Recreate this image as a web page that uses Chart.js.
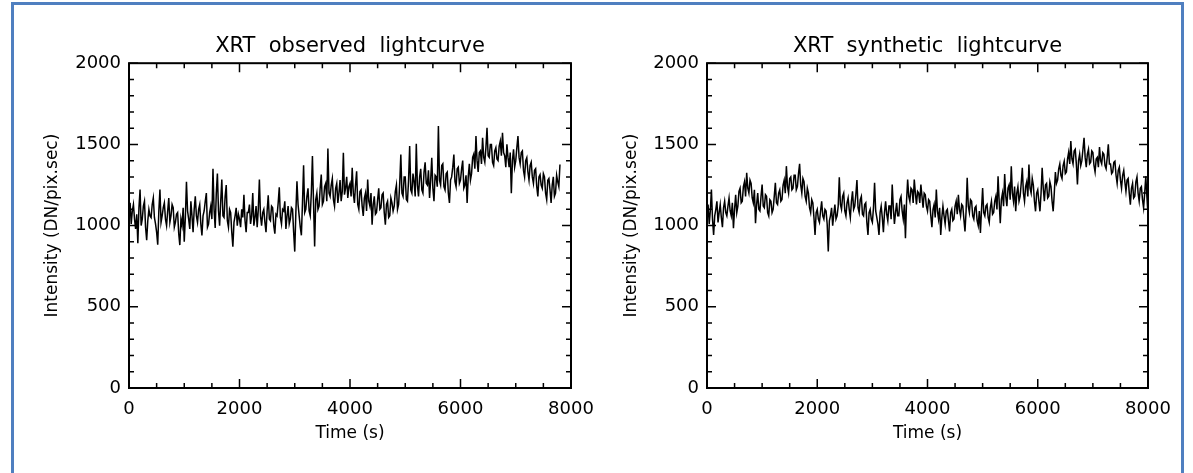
<!DOCTYPE html>
<html lang="en">
<head>
    <meta charset="UTF-8">
    <title>XRT lightcurves</title>
    <script src="https://cdn.jsdelivr.net/npm/chart.js"></script>
    <style>
        body {
            margin: 0;
            width: 1193px;
            height: 473px;
            overflow: hidden;
            background: white;
            position: relative;
        }
        .frame {
            position: absolute;
            left: 11px;
            top: 2px;
            width: 1167px;
            height: 700px;
            border: 3px solid #4f7fc0;
        }
        canvas {
            position: absolute;
            top: 0;
        }
        #observed { left: 0; }
        #synthetic { left: 596px; }
    </style>
</head>
<body>
    <div class="frame"></div>
    <canvas id="observed" width="596" height="473"></canvas>
    <canvas id="synthetic" width="597" height="473"></canvas>
    <script>
        // sampling step of both lightcurves (s)
        const cadence = 20;

        const xTicksMajor = [0, 2000, 4000, 6000, 8000];
        const yTicksMajor = [0, 500, 1000, 1500, 2000];

        // XRT observed lightcurve, DN/pix.sec, 0 .. 7800 s (one row = 400 s)
        const observedValues = [
            1080, 1140, 1010, 1090, 1130, 1040, 980, 1070, 892, 1110, 1222, 1000, 1040, 1120, 1150, 990, 910, 1030, 1100, 1060,
            1050, 1130, 1170, 1050, 1010, 960, 882, 1090, 1222, 1020, 1060, 1110, 1140, 1040, 1000, 1090, 1170, 1020, 1060, 1130,
            1110, 990, 1020, 1070, 1080, 950, 880, 1040, 1000, 1110, 900, 1050, 1270, 1090, 1040, 980, 1150, 1060, 960, 1100,
            1180, 1060, 1020, 1100, 1130, 1010, 940, 1060, 1090, 1150, 1200, 990, 1010, 1080, 1120, 1040, 1350, 1100, 985, 1200,
            1320, 1090, 1000, 1150, 1283, 1060, 1050, 1180, 1250, 1030, 990, 1100, 1080, 960, 870, 1020, 1060, 1110, 1000, 1070,
            1040, 990, 1100, 1050, 1190, 1030, 960, 1080, 1080, 1130, 1010, 1060, 1200, 1000, 1050, 1120, 990, 1100, 1284, 1060,
            1000, 1080, 1100, 1020, 960, 1090, 1187, 1040, 1030, 1120, 1110, 1000, 950, 1070, 1060, 1140, 1236, 1050, 1010, 1100,
            1090, 1150, 980, 1060, 1120, 1010, 1040, 1110, 1100, 960, 840, 1080, 1273, 1130, 1060, 990, 940, 1140, 1372, 1080,
            1100, 1180, 1230, 1090, 1060, 1200, 1428, 1140, 871, 1160, 1200, 1100, 1120, 1230, 1314, 1130, 1150, 1240, 1260, 1150,
            1475, 1200, 1180, 1250, 1290, 1160, 1120, 1230, 1260, 1140, 1200, 1280, 1150, 1210, 1448, 1190, 1230, 1300, 1170, 1240,
            1260, 1180, 1356, 1200, 1140, 1250, 1335, 1130, 1100, 1210, 1220, 1120, 1060, 1170, 1200, 1090, 1283, 1150, 1120, 1200,
            1005, 1130, 1180, 1070, 1080, 1160, 1230, 1100, 1110, 1190, 1200, 1080, 1005, 1130, 1150, 1050, 1060, 1170, 1140, 1090,
            1120, 1210, 1250, 1100, 1130, 1260, 1438, 1200, 1180, 1300, 1300, 1160, 1150, 1280, 1490, 1220, 1200, 1320, 1270, 1180,
            1504, 1250, 1180, 1300, 1350, 1220, 1200, 1330, 1390, 1260, 1250, 1340, 1170, 1280, 1418, 1230, 1150, 1310, 1300, 1240,
            1613, 1280, 1250, 1370, 1380, 1240, 1220, 1320, 1330, 1200, 1139, 1280, 1300, 1360, 1438, 1270, 1240, 1350, 1360, 1260,
            1280, 1350, 1400, 1230, 1250, 1310, 1139, 1300, 1380, 1280, 1320, 1420, 1440, 1350, 1552, 1400, 1330, 1450, 1460, 1380,
            1541, 1420, 1390, 1480, 1603, 1430, 1420, 1500, 1500, 1390, 1370, 1460, 1480, 1410, 1400, 1490, 1520, 1430, 1572, 1450,
            1430, 1360, 1500, 1420, 1360, 1450, 1200, 1400, 1470, 1360, 1400, 1480, 1552, 1420, 1380, 1450, 1460, 1340, 1300, 1400,
            1418, 1330, 1280, 1370, 1390, 1300, 1260, 1340, 1350, 1240, 1180, 1300, 1314, 1250, 1230, 1320, 1300, 1200, 1160, 1280,
            1290, 1220, 1139, 1250, 1300, 1180, 1200, 1310, 1270, 1240, 1376
        ];

        // XRT synthetic lightcurve, DN/pix.sec, 0 .. 8000 s (one row = 400 s)
        const syntheticValues = [
            1080, 1130, 1010, 1090, 1222, 1040, 943, 1060, 1100, 1150, 1020, 1080, 1130, 1050, 990, 1110, 1150, 1080, 1060, 1120,
            1170, 1090, 1060, 1140, 984, 1100, 1190, 1080, 1120, 1210, 1230, 1140, 1150, 1240, 1270, 1180, 1325, 1230, 1200, 1280,
            1260, 1170, 1140, 1220, 1015, 1130, 1200, 1100, 1090, 1180, 1253, 1120, 1110, 1190, 1180, 1080, 1060, 1160, 1150, 1080,
            1100, 1180, 1263, 1140, 1130, 1200, 1220, 1150, 1160, 1250, 1280, 1200, 1366, 1240, 1200, 1290, 1300, 1220, 1230, 1310,
            1310, 1220, 1240, 1320, 1380, 1250, 1200, 1290, 1270, 1180, 1150, 1230, 1200, 1110, 1080, 1160, 1140, 1050, 943, 1080,
            1100, 1040, 1020, 1090, 1150, 1060, 1040, 1100, 1090, 1010, 840, 1030, 1060, 1110, 1000, 1070, 1130, 1040, 1060, 1120,
            1298, 1130, 1100, 1180, 1200, 1090, 1060, 1140, 1170, 1100, 1050, 1150, 1211, 1100, 1120, 1190, 1280, 1110, 1080, 1160,
            1180, 1070, 1060, 1130, 1140, 1020, 943, 1080, 1100, 1040, 1020, 1110, 1263, 1090, 1050, 1010, 943, 1080, 1120, 1050,
            960, 1080, 1150, 1070, 1030, 1120, 1120, 1040, 1253, 1110, 1010, 1080, 1140, 1060, 1060, 1160, 1180, 1090, 1040, 1130,
            923, 1150, 1284, 1180, 1150, 1230, 1220, 1140, 1284, 1200, 1130, 1210, 1200, 1140, 1253, 1180, 1110, 1200, 1190, 1120,
            1090, 1160, 1150, 1060, 990, 1100, 1130, 1050, 1222, 1090, 1040, 1110, 943, 1050, 1120, 1060, 1010, 1090, 1100, 1030,
            964, 1080, 1100, 1030, 1040, 1120, 1150, 1070, 1190, 1100, 1060, 1130, 1120, 1040, 964, 1090, 1294, 1120, 1080, 1160,
            1150, 1060, 1040, 1110, 1120, 1030, 1000, 1090, 954, 1100, 1232, 1080, 1060, 1120, 1130, 1050, 1020, 1110, 1150, 1070,
            1080, 1150, 1180, 1100, 1304, 1150, 1015, 1160, 1200, 1120, 1318, 1180, 1120, 1230, 1250, 1160, 1366, 1200, 1150, 1240,
            1088, 1200, 1240, 1150, 1180, 1260, 1356, 1200, 1150, 1240, 1270, 1180, 1376, 1230, 1200, 1290, 1250, 1150, 1088, 1200,
            1220, 1150, 1088, 1200, 1356, 1230, 1150, 1250, 1260, 1170, 1180, 1270, 1240, 1150, 1088, 1200, 1330, 1260, 1280, 1350,
            1380, 1310, 1290, 1370, 1397, 1320, 1330, 1410, 1450, 1380, 1520, 1410, 1380, 1460, 1470, 1380, 1253, 1400, 1440, 1370,
            1400, 1470, 1541, 1420, 1360, 1440, 1470, 1380, 1390, 1460, 1450, 1370, 1330, 1410, 1420, 1360, 1484, 1400, 1380, 1450,
            1440, 1370, 1350, 1420, 1500, 1380, 1380, 1320, 1330, 1390, 1397, 1310, 1260, 1340, 1360, 1280, 1230, 1310, 1340, 1270,
            1211, 1280, 1290, 1200, 1129, 1230, 1260, 1170, 1180, 1270, 1300, 1200, 1150, 1230, 1240, 1160, 1110, 1200, 1304, 1180,
            1067
        ];

        const toPoints = (values) => values.map((v, i) => ({ x: i * cadence, y: v }));

        const fontFamily = "'DejaVu Sans', sans-serif";

        // IDL style box with inward ticks on all four sides
        const idlBox = {
            id: "idlBox",
            afterDraw(chart) {
                const { ctx, chartArea: a, scales: { x, y } } = chart;
                ctx.save();
                ctx.strokeStyle = "#000";
                ctx.lineWidth = 1.5;
                ctx.beginPath();
                x.ticks.forEach((t) => {
                    const px = x.getPixelForValue(t.value);
                    const len = xTicksMajor.includes(t.value) ? 9 : 5;
                    ctx.moveTo(px, a.bottom);
                    ctx.lineTo(px, a.bottom - len);
                    ctx.moveTo(px, a.top);
                    ctx.lineTo(px, a.top + len);
                });
                y.ticks.forEach((t) => {
                    const py = y.getPixelForValue(t.value);
                    const len = yTicksMajor.includes(t.value) ? 9 : 5;
                    ctx.moveTo(a.left, py);
                    ctx.lineTo(a.left + len, py);
                    ctx.moveTo(a.right, py);
                    ctx.lineTo(a.right - len, py);
                });
                ctx.stroke();
                ctx.lineWidth = 2;
                ctx.strokeRect(a.left, a.top, a.right - a.left, a.bottom - a.top);
                ctx.restore();
            }
        };

        const createLightcurve = (canvasId, titleText, values, yAxisWidth, rightPad, yTitlePad) => {
            const ctx = document.getElementById(canvasId).getContext("2d");
            return new Chart(ctx, {
                type: "line",
                data: {
                    datasets: [{
                        data: toPoints(values),
                        borderColor: "#000",
                        borderWidth: 1.5,
                        pointRadius: 0,
                        tension: 0,
                    }],
                },
                options: {
                    responsive: false,
                    animation: false,
                    devicePixelRatio: 1,
                    layout: { padding: { left: 0, right: rightPad, top: 0, bottom: 0 } },
                    plugins: {
                        legend: { display: false },
                        tooltip: { enabled: false },
                        title: {
                            display: true,
                            text: titleText,
                            fullSize: false,
                            color: "#000",
                            font: { family: fontFamily, size: 21, weight: "normal" },
                            padding: { top: 34, bottom: 4 },
                        },
                    },
                    scales: {
                        x: {
                            type: "linear",
                            min: 0,
                            max: 8000,
                            grid: { display: false, drawTicks: false },
                            border: { display: false },
                            afterFit: (scale) => {
                                scale.height = 85;
                                scale.paddingLeft = 0;
                                scale.paddingRight = 0;
                            },
                            ticks: {
                                stepSize: 500,
                                autoSkip: false,
                                maxRotation: 0,
                                padding: 11,
                                color: "#000",
                                font: { family: fontFamily, size: 18 },
                                callback: (v) => (xTicksMajor.includes(v) ? String(v) : ""),
                            },
                            title: {
                                display: true,
                                text: "Time (s)",
                                color: "#000",
                                font: { family: fontFamily, size: 17 },
                                padding: { top: 0, bottom: 29 },
                            },
                        },
                        y: {
                            min: 0,
                            max: 2000,
                            grid: { display: false, drawTicks: false },
                            border: { display: false },
                            afterFit: (scale) => { scale.width = yAxisWidth; },
                            ticks: {
                                stepSize: 100,
                                autoSkip: false,
                                padding: 8,
                                color: "#000",
                                font: { family: fontFamily, size: 18 },
                                callback: (v) => (yTicksMajor.includes(v) ? String(v) : ""),
                            },
                            title: {
                                display: true,
                                text: "Intensity (DN/pix.sec)",
                                color: "#000",
                                font: { family: fontFamily, size: 17 },
                                padding: { top: yTitlePad, bottom: 0 },
                            },
                        },
                    },
                },
                plugins: [idlBox],
            });
        };

        createLightcurve("observed", "XRT  observed  lightcurve", observedValues, 129, 25, 42);
        createLightcurve("synthetic", "XRT  synthetic  lightcurve", syntheticValues, 111, 45, 25);
    </script>
</body>
</html>
